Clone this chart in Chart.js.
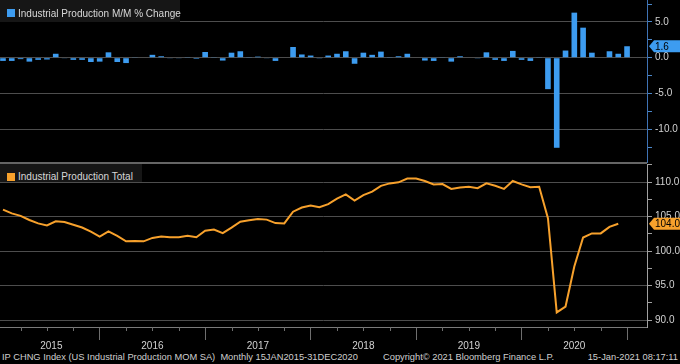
<!DOCTYPE html>
<html>
<head>
<meta charset="utf-8">
<script src="https://cdn.jsdelivr.net/npm/chart.js"></script>
<style>
  body { margin: 0; width: 680px; height: 364px; background: #000; overflow: hidden; position: relative;
         font-family: "Liberation Sans", Arial, sans-serif; }
  .panel { position: absolute; left: 0; width: 680px; }
  #top-panel { top: 0; height: 163px; }
  #bottom-panel { top: 164px; height: 186px; }
  .separator { position: absolute; left: 0; top: 162px; width: 647px; height: 2px; background: #656565; }
  .legend { position: absolute; left: 0; box-sizing: border-box; background: #161616; color: #d8d8d8;
            font-size: 10px; line-height: 12px; padding-left: 18px; white-space: nowrap; }
  .legend .swatch { position: absolute; left: 7px; top: 9px; width: 8px; height: 8px; }
  .footer { position: absolute; top: 351px; font-size: 9.3px; line-height: 12px; color: #cfcfcf; white-space: pre; }
</style>
</head>
<body>
<div class="panel" id="top-panel"><canvas id="mom-chart"></canvas></div>
<div class="panel" id="bottom-panel"><canvas id="total-chart"></canvas></div>
<div class="separator"></div>
<div class="legend" style="top:0;width:180px;height:22px;padding-top:8px;"><span class="swatch" style="background:#3d9cf0"></span>Industrial Production M/M % Change</div>
<div class="legend" style="top:164px;width:142px;height:18px;padding-top:7px;"><span class="swatch" style="background:#f7a12c"></span>Industrial Production Total</div>
<div class="footer" style="left:2px;">IP CHNG Index (US Industrial Production MOM SA)  Monthly 15JAN2015-31DEC2020</div>
<div class="footer" style="left:383px;">Copyright© 2021 Bloomberg Finance L.P.</div>
<div class="footer" style="right:2px;">15-Jan-2021 08:17:11</div>
<script>
var years = ['2015', '2016', '2017', '2018', '2019', '2020'];
var monthNames = ['Jan', 'Feb', 'Mar', 'Apr', 'May', 'Jun', 'Jul', 'Aug', 'Sep', 'Oct', 'Nov', 'Dec'];
var months = [];
years.forEach(function (y) {
    monthNames.forEach(function (m) { months.push(m + ' ' + y); });
});

// M/M % change, Jan 2015 - Dec 2020
var momChange = [
    -0.45, -0.45, -0.2, -0.55, -0.3, -0.25, 0.55, -0.05, -0.3, -0.3, -0.6, -0.55,
    0.75, -0.6, -0.75, 0.05, 0.0, 0.4, 0.2, -0.05, -0.05, 0.1, -0.15, 0.8,
    0.1, -0.4, 0.7, 0.9, 0.1, 0.15, -0.05, -0.45, 0.0, 1.5, 0.45, 0.3,
    -0.1, 0.3, 0.55, 0.9, -0.85, 0.7, 0.4, 0.85, 0.1, 0.2, 0.55, 0.0,
    -0.4, -0.45, 0.05, -0.55, 0.2, 0.0, -0.1, 0.75, -0.3, -0.45, 0.95, -0.3,
    -0.45, 0.1, -4.4, -12.6, 1.0, 6.3, 4.2, 0.7, 0.0, 0.9, 0.55, 1.6
];

// index level, Jan 2015 - Nov 2020
var ipTotal = [
    106.0, 105.46, 105.1, 104.5, 104.0, 103.7, 104.3, 104.2, 103.8, 103.4, 102.8, 102.1,
    102.85, 102.2, 101.4, 101.45, 101.4, 101.9, 102.1, 102.0, 101.98, 102.2, 102.0, 102.95,
    103.1, 102.6, 103.4, 104.25, 104.45, 104.65, 104.55, 104.05, 104.0, 105.7, 106.3, 106.6,
    106.35, 106.8, 107.6, 108.2, 107.3, 108.1, 108.6, 109.45, 109.8, 109.95, 110.5, 110.5,
    110.15, 109.65, 109.7, 109.0, 109.2, 109.3, 109.1, 109.8, 109.45, 109.0, 110.15, 109.65,
    109.25, 109.3, 104.75, 91.1, 91.95, 97.75, 101.95, 102.55, 102.55, 103.5, 103.96
];

var momTicks = [-12.5, -10, -7.5, -5, -2.5, 0, 2.5, 5, 7.5];
var totalTicks = [90, 92.5, 95, 97.5, 100, 102.5, 105, 107.5, 110, 112.5];

var yearEnds = years.map(function (y, j) { return j * 12 + 11; });
var yearMids = years.map(function (y, j) { return (Math.max(0, j * 12 - 1) + j * 12 + 11) / 2; });
var quarterEnds = [];
months.forEach(function (m, i) {
    if (i % 12 === 2 || i % 12 === 5 || i % 12 === 8) quarterEnds.push(i);
});

Chart.defaults.font.family = '"Liberation Sans", Arial, sans-serif';
Chart.defaults.font.size = 10;
Chart.defaults.color = '#d2d2d2';

var gridColor = '#4d4d4d';

function xScale(show) {
    return {
        type: 'linear',
        display: show,
        min: -0.34,
        max: 73.27,
        offset: false,
        border: { color: '#7a7a7a' },
        grid: {
            offset: false,
            drawOnChartArea: false,
            tickLength: 13,
            tickColor: function (c) {
                return c.tick && yearEnds.indexOf(c.tick.value) >= 0 ? '#6e6e6e' : 'transparent';
            }
        },
        afterBuildTicks: function (s) {
            s.ticks = yearEnds.concat(yearMids).sort(function (a, b) { return a - b; })
                .map(function (v) { return { value: v }; });
        },
        afterFit: function (s) { if (show) s.height = 23; },
        ticks: {
            autoSkip: false,
            maxRotation: 0,
            padding: 0,
            callback: function (v) {
                var j = yearMids.indexOf(v);
                return j >= 0 ? years[j] : '';
            }
        }
    };
}

function yScale(min, max, tickValues, axisColor, tickColor) {
    return {
        position: 'right',
        min: min,
        max: max,
        border: { color: axisColor },
        grid: {
            color: function (c) {
                return c.tick && c.tick.value % 5 === 0 ? gridColor : 'transparent';
            },
            tickLength: 5,
            tickColor: tickColor
        },
        afterBuildTicks: function (s) {
            s.ticks = tickValues.map(function (v) { return { value: v }; });
        },
        afterFit: function (s) {
            s.width = 33;
            s.paddingTop = 0;
            s.paddingBottom = 0;
        },
        ticks: {
            padding: 3,
            callback: function (v) { return v % 5 === 0 ? v.toFixed(1) : ''; }
        }
    };
}

var valueTag = {
    id: 'valueTag',
    afterDraw: function (chart, args, opts) {
        var data = chart.data.datasets[0].data;
        var last = data[data.length - 1].y;
        var y = chart.scales.y.getPixelForValue(last);
        var left = chart.chartArea.right + 2;
        var ctx = chart.ctx;
        ctx.save();
        ctx.fillStyle = opts.color;
        ctx.beginPath();
        ctx.moveTo(left, y);
        ctx.lineTo(left + 5, y - 6);
        ctx.lineTo(chart.width, y - 6);
        ctx.lineTo(chart.width, y + 6);
        ctx.lineTo(left + 5, y + 6);
        ctx.closePath();
        ctx.fill();
        ctx.fillStyle = '#000';
        ctx.font = '10px "Liberation Sans", Arial, sans-serif';
        ctx.textAlign = 'left';
        ctx.textBaseline = 'middle';
        ctx.fillText(last.toFixed(1), chart.chartArea.right + 8, y + 0.5);
        ctx.restore();
    }
};

var quarterMarks = {
    id: 'quarterMarks',
    afterDraw: function (chart) {
        var x = chart.scales.x;
        var ctx = chart.ctx;
        ctx.save();
        ctx.strokeStyle = '#6e6e6e';
        ctx.lineWidth = 1;
        quarterEnds.forEach(function (v) {
            var px = Math.round(x.getPixelForValue(v)) + 0.5;
            ctx.beginPath();
            ctx.moveTo(px, x.top);
            ctx.lineTo(px, x.top + 4);
            ctx.stroke();
        });
        ctx.restore();
    }
};

new Chart(document.getElementById('mom-chart'), {
    type: 'bar',
    data: {
        datasets: [{
            data: momChange.map(function (v, i) { return { x: i, y: v }; }),
            backgroundColor: '#3d9cf0',
            barPercentage: 0.8,
            categoryPercentage: 0.8
        }]
    },
    options: {
        responsive: true,
        maintainAspectRatio: false,
        animation: false,
        events: [],
        layout: { padding: 0 },
        plugins: {
            legend: { display: false },
            tooltip: { enabled: false },
            valueTag: { color: '#3d9cf0' }
        },
        scales: {
            x: xScale(false),
            y: yScale(-14.73, 8.07, momTicks, '#3f73b5', '#4a86c8')
        }
    },
    plugins: [valueTag]
});

new Chart(document.getElementById('total-chart'), {
    type: 'line',
    data: {
        datasets: [{
            data: ipTotal.map(function (v, i) { return { x: i, y: v }; }),
            borderColor: '#f7a12c',
            borderWidth: 2,
            pointRadius: 0,
            tension: 0,
            fill: false
        }]
    },
    options: {
        responsive: true,
        maintainAspectRatio: false,
        animation: false,
        events: [],
        layout: { padding: 0 },
        plugins: {
            legend: { display: false },
            tooltip: { enabled: false },
            valueTag: { color: '#f7a12c' }
        },
        scales: {
            x: xScale(true),
            y: yScale(88.99, 112.61, totalTicks, '#a0a0a0', '#a0a0a0')
        }
    },
    plugins: [valueTag, quarterMarks]
});
</script>
</body>
</html>
